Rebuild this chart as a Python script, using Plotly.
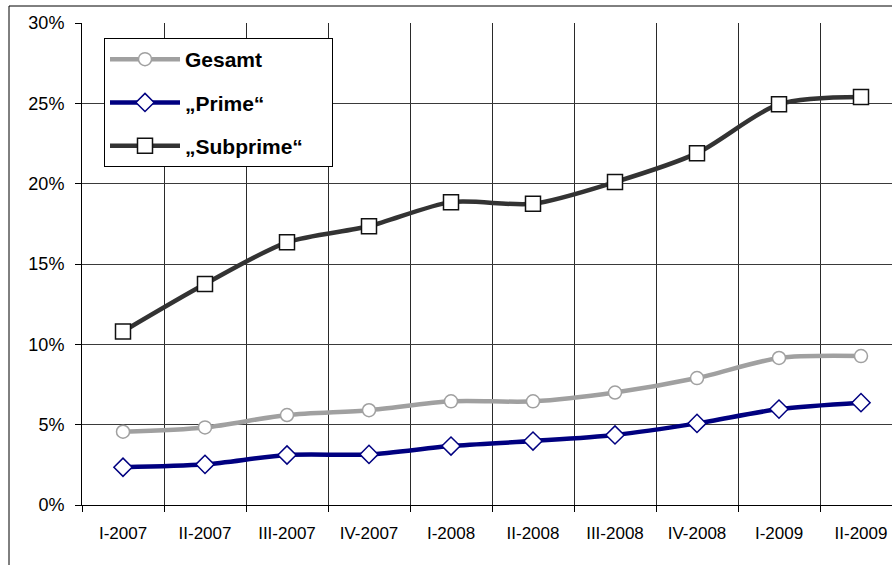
import plotly.graph_objects as go

categories = ["I-2007", "II-2007", "III-2007", "IV-2007", "I-2008", "II-2008",
              "III-2008", "IV-2008", "I-2009", "II-2009"]
gesamt = [4.56, 4.83, 5.6, 5.9, 6.45, 6.45, 7.0, 7.9, 9.15, 9.27]
prime = [2.35, 2.53, 3.11, 3.15, 3.67, 3.98, 4.36, 5.08, 5.97, 6.37]
subprime = [10.8, 13.75, 16.35, 17.35, 18.85, 18.75, 20.1, 21.9, 24.95, 25.4]
y_ticks = [0, 5, 10, 15, 20, 25, 30]
y_labels = [f"{v}%" for v in y_ticks]
names = ["Gesamt", "\u201ePrime\u201c", "\u201eSubprime\u201c"]

fig = go.Figure()
styles = [
    ("#a0a0a0", "#a0a0a0", "circle", 13),
    ("#000080", "#000080", "diamond", 14),
    ("#333333", "#111111", "square", 15),
]
pad = "\u00a0" * 4
for i, vals in enumerate([gesamt, prime, subprime]):
    lc, mc, sym, sz = styles[i]
    fig.add_trace(go.Scatter(
        x=categories, y=vals, name=f"<b>{names[i]}</b>{pad}", mode="lines+markers",
        line=dict(color=lc, width=4.5, shape="spline", smoothing=0.8),
        marker=dict(symbol=sym, size=sz, color="white", line=dict(color=mc, width=1.5)),
        legendgroup=f"g{i}",
    ))

L, T, B = 82, 23, 60
W, H = 892, 565
pw = W - L
ph = H - T - B

fig.update_layout(
    width=W, height=H,
    margin=dict(l=L, r=0, t=T, b=B, pad=0),
    paper_bgcolor="white", plot_bgcolor="white",
    font=dict(family="Liberation Sans, Arial, sans-serif", size=17, color="black"),
    showlegend=True,
    legend=dict(
        x=(104 - L) / pw, y=(505 - 38) / ph, xanchor="left", yanchor="top",
        bgcolor="white", bordercolor="black", borderwidth=1,
        font=dict(size=21, color="black"),
        traceorder="grouped", tracegroupgap=13,
        itemwidth=70,
    ),
    xaxis=dict(
        type="category", range=[-0.5, -0.5 + pw / 82.0],
        tickson="boundaries", showgrid=True, gridcolor="#2a2a2a", gridwidth=1,
        showline=True, linecolor="black", linewidth=1,
        ticks="outside", ticklen=6, tickcolor="black",
        ticklabelstandoff=13, tickfont=dict(size=17),
        zeroline=False,
    ),
    yaxis=dict(
        range=[0, 30], tickmode="array", tickvals=y_ticks, ticktext=y_labels,
        showgrid=True, gridcolor="#3a3a3a", gridwidth=1,
        showline=True, linecolor="black", linewidth=1,
        ticks="outside", ticklen=6, tickcolor="black",
        ticklabelstandoff=7, tickfont=dict(size=18),
        zeroline=False,
    ),
    shapes=[dict(
        type="rect", xref="paper", yref="paper",
        x0=(9 - L) / pw, x1=(W + 20 - L) / pw,
        y0=(505 - H - 20) / ph, y1=(505 - 6) / ph,
        line=dict(color="black", width=1), layer="below",
    )],
)

fig.write_html("out.html", config={"displayModeBar": False},
               post_script="document.body.style.margin='0';document.body.style.overflow='hidden';")
